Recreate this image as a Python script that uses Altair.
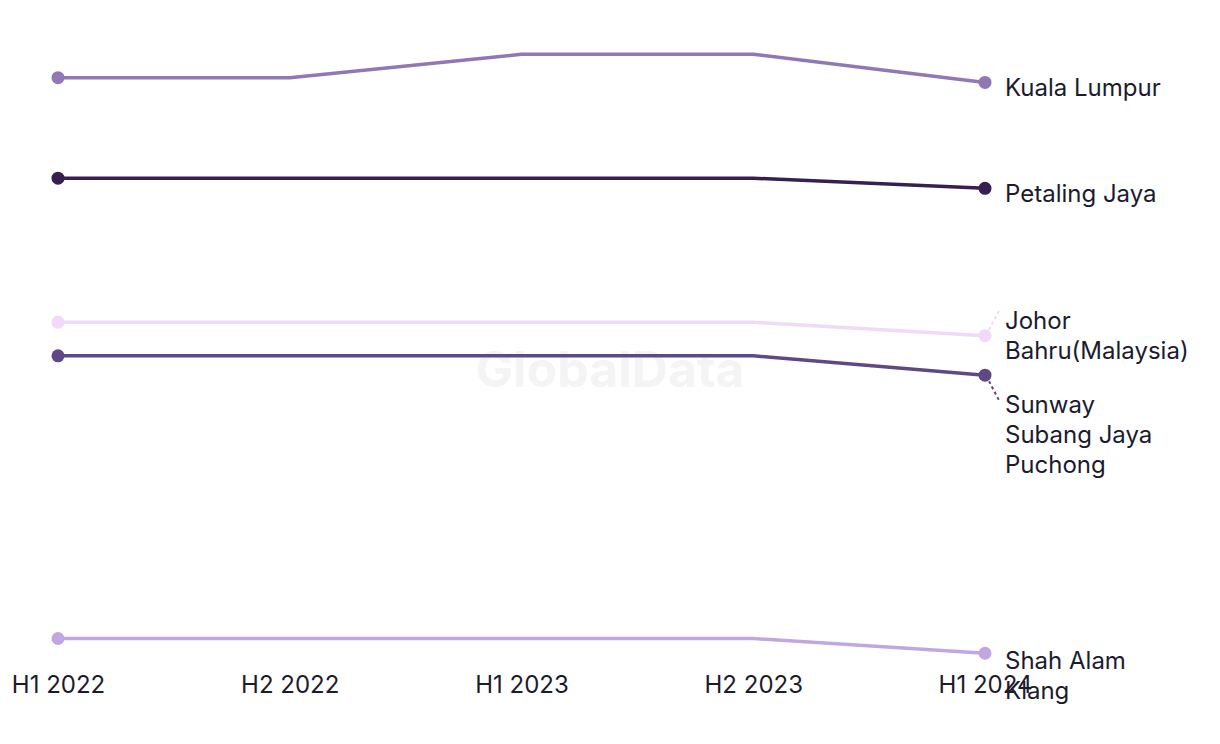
import altair as alt
import pandas as pd

periods = ["H1 2022", "H2 2022", "H1 2023", "H2 2023", "H1 2024"]
series_names = ["Kuala Lumpur", "Petaling Jaya", "Johor Bahru(Malaysia)",
                "Sunway Subang Jaya Puchong", "Shah Alam Klang"]
kuala_lumpur = [88.4, 88.4, 91.9, 91.9, 87.7]
petaling_jaya = [73.4, 73.4, 73.4, 73.4, 71.9]
johor_bahru = [51.9, 51.9, 51.9, 51.9, 49.9]
sunway = [46.9, 46.9, 46.9, 46.9, 44.0]
shah_alam = [4.7, 4.7, 4.7, 4.7, 2.5]
label_texts = ["Kuala Lumpur", "Petaling Jaya", "Johor\nBahru(Malaysia)",
               "Sunway\nSubang Jaya\nPuchong", "Shah Alam\nKlang"]
colors = ["#8f78b4", "#35204f", "#f0d9f9", "#5f4985", "#c0a7e2"]
label_dy = [7, 7, -14, 31, 9]

all_values = [kuala_lumpur, petaling_jaya, johor_bahru, sunway, shah_alam]
rows = []
for name, vals in zip(series_names, all_values):
    for p, v in zip(periods, vals):
        rows.append({"series": name, "period": p, "value": v})
df = pd.DataFrame(rows)

ends = df[df["period"].isin([periods[0], periods[-1]])]

FONT = "Inter"
TXT = "#1c1b2e"

x_enc = alt.X("period:N", sort=periods, scale=alt.Scale(type="point", padding=0),
              axis=alt.Axis(title=None, ticks=False, domain=False, grid=False,
                            labelAngle=0, labelFontSize=24, labelFont=FONT,
                            labelColor=TXT, labelPadding=3))
y_enc = alt.Y("value:Q", scale=alt.Scale(domain=[0, 100]), axis=None)
color_enc = alt.Color("series:N", sort=series_names,
                      scale=alt.Scale(domain=series_names, range=colors), legend=None)

watermark = alt.Chart(pd.DataFrame({"t": ["GlobalData"]})).mark_text(
    font=FONT, fontSize=50, fontWeight="bold", color="#f4f4f4",
    align="center", baseline="middle"
).encode(text="t:N", x=alt.value(552), y=alt.value(372))

lines = alt.Chart(df).mark_line(strokeWidth=3.5, interpolate="linear").encode(
    x=x_enc, y=y_enc, color=color_enc, detail="series:N")

points = alt.Chart(ends).mark_circle(size=170, opacity=1).encode(
    x=alt.X("period:N", sort=periods), y="value:Q", color=color_enc)

layers = [watermark, lines, points]

last_rows = df[df["period"] == periods[-1]].reset_index(drop=True)
for i, name in enumerate(series_names):
    r = last_rows[last_rows["series"] == name].copy()
    r["label"] = label_texts[i]
    layers.append(
        alt.Chart(r).mark_text(
            font=FONT, fontSize=24, color=TXT, align="left", baseline="middle",
            dx=20, dy=label_dy[i], lineBreak="\n", lineHeight=30
        ).encode(x=alt.X("period:N", sort=periods), y="value:Q", text="label:N")
    )

# leader lines
jb = last_rows[last_rows["series"] == series_names[2]]
sw = last_rows[last_rows["series"] == series_names[3]]
layers.append(alt.Chart(jb).mark_rule(
    color=colors[2], strokeWidth=2, strokeDash=[3, 3],
    xOffset=4, yOffset=-6, x2Offset=14, y2Offset=-25
).encode(x=alt.X("period:N", sort=periods), x2="period:N", y="value:Q", y2="value:Q"))
layers.append(alt.Chart(sw).mark_rule(
    color=colors[3], strokeWidth=2, strokeDash=[3, 3],
    xOffset=4, yOffset=6, x2Offset=15, y2Offset=27
).encode(x=alt.X("period:N", sort=periods), x2="period:N", y="value:Q", y2="value:Q"))

chart = alt.layer(*layers).properties(
    width=927, height=670,
    autosize=alt.AutoSizeParams(type="none"),
    padding={"left": 58, "top": 0, "right": 235, "bottom": 74},
    background="white"
).configure_view(stroke=None)

chart.save("out.html", embed_options={"renderer": "svg", "actions": False})
